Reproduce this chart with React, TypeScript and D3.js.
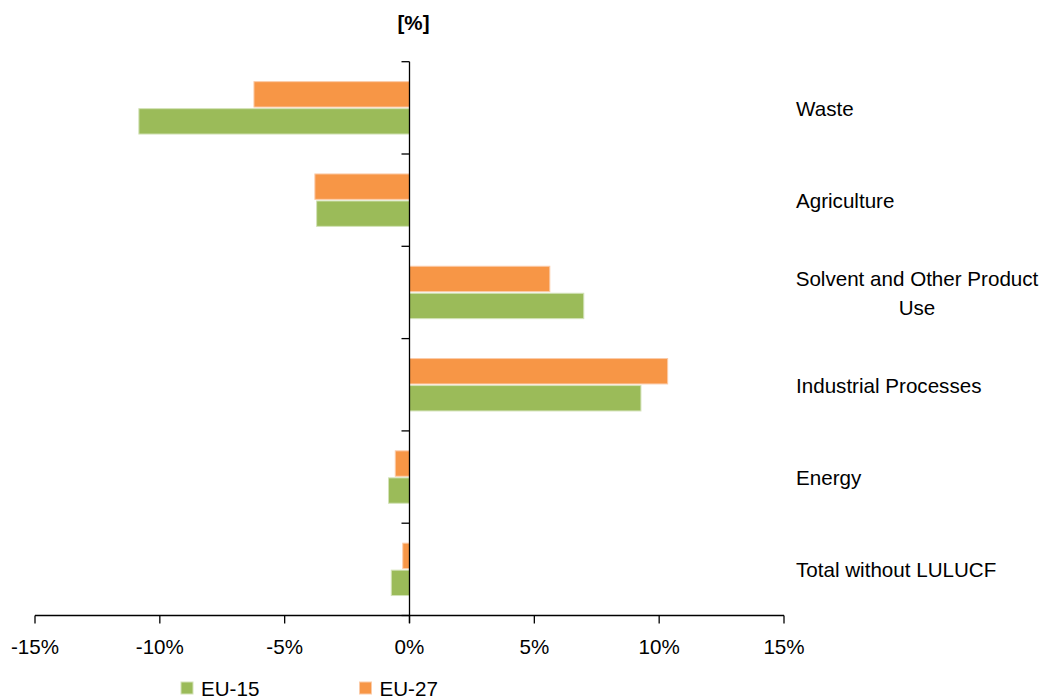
import React from "react";
import * as d3 from "d3";

const categories = [
  "Waste",
  "Agriculture",
  "Solvent and Other Product Use",
  "Industrial Processes",
  "Energy",
  "Total without LULUCF",
];
const eu15 = [-10.84, -3.72, 6.98, 9.27, -0.84, -0.73];
const eu27 = [-6.23, -3.79, 5.62, 10.34, -0.57, -0.27];
const xTicks = [-15, -10, -5, 0, 5, 10, 15];
const seriesNames = ["EU-15", "EU-27"];
const seriesColors = ["#9BBB59", "#F79646"];
const seriesEdges = ["#D3E2B8", "#FBCBA8"];

const labelLines: Record<string, string[]> = {
  "Solvent and Other Product Use": ["Solvent and Other Product", "Use"],
};

const W = 1040;
const H = 698;
const FONT = "Liberation Sans, Arial, sans-serif";
const FS = 20.6;

export default function App() {
  const x = d3.scaleLinear().domain([-15, 15]).range([35, 784]);
  const y = d3.scaleBand<string>().domain(categories).range([61.7, 615.5]).paddingInner(0).paddingOuter(0);
  const inner = d3
    .scaleBand<string>()
    .domain(["EU-27", "EU-15"])
    .range([0, y.bandwidth()])
    .paddingInner(0.06)
    .paddingOuter(0.739);
  const x0 = x(0);
  const axisY = 615.5;

  const bars: { key: string; v: number; s: string; c: number }[] = [];
  categories.forEach((c, i) => {
    bars.push({ key: c, v: eu27[i], s: "EU-27", c: 1 });
    bars.push({ key: c, v: eu15[i], s: "EU-15", c: 0 });
  });

  return (
    <svg
      width={W}
      height={H}
      style={{ position: "absolute", left: 0, top: 0, background: "#fff" }}
      fontFamily={FONT}
    >
      {/* title */}
      <text x={413.5} y={30} textAnchor="middle" fontSize={FS} fontWeight="bold" fill="#000">
        [%]
      </text>

      {/* bars */}
      {bars.map((b, i) => {
        const yy = (y(b.key) as number) + (inner(b.s) as number);
        const xa = Math.min(x(b.v), x0);
        const w = Math.abs(x(b.v) - x0);
        return (
          <rect
            key={i}
            x={xa}
            y={yy}
            width={w}
            height={inner.bandwidth()}
            fill={seriesColors[b.c]}
            stroke={seriesEdges[b.c]}
            strokeWidth={1}
          />
        );
      })}

      {/* vertical axis at zero */}
      <line x1={x0} x2={x0} y1={61.7} y2={623} stroke="#000" strokeWidth={1.3} />
      {d3.range(categories.length + 1).map((i) => {
        const yy = i < categories.length ? (y(categories[i]) as number) : axisY;
        return <line key={i} x1={x0 - 8} x2={x0} y1={yy} y2={yy} stroke="#000" strokeWidth={1.3} />;
      })}

      {/* horizontal axis */}
      <line x1={x(-15)} x2={x(15)} y1={axisY} y2={axisY} stroke="#000" strokeWidth={1.3} />
      {xTicks.map((t) => (
        <g key={t}>
          <line x1={x(t)} x2={x(t)} y1={axisY} y2={axisY + 8} stroke="#000" strokeWidth={1.3} />
          <text x={x(t)} y={654} textAnchor="middle" fontSize={FS} fill="#000">
            {`${t}%`}
          </text>
        </g>
      ))}

      {/* category labels */}
      {categories.map((c) => {
        const cy = (y(c) as number) + y.bandwidth() / 2;
        const lines = labelLines[c];
        if (lines) {
          return (
            <text key={c} textAnchor="middle" fontSize={FS} fill="#000">
              {lines.map((l, j) => (
                <tspan key={j} x={917} y={cy - 6.5 + j * 29}>
                  {l}
                </tspan>
              ))}
            </text>
          );
        }
        return (
          <text key={c} x={796} y={cy + 8} fontSize={FS} fill="#000">
            {c}
          </text>
        );
      })}

      {/* legend */}
      {seriesNames.map((s, i) => {
        const lx = i === 0 ? 181 : 359.5;
        return (
          <g key={s}>
            <rect x={lx} y={682} width={12} height={12} fill={seriesColors[i]} stroke={seriesEdges[i]} strokeWidth={1} />
            <text x={lx + 20} y={696} fontSize={FS} fill="#000">
              {s}
            </text>
          </g>
        );
      })}
    </svg>
  );
}
